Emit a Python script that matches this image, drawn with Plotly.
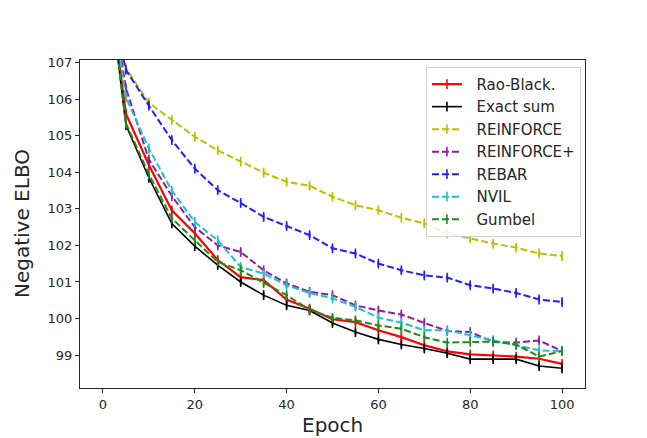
import plotly.graph_objects as go

epochs = [0, 5, 10, 15, 20, 25, 30, 35, 40, 45, 50, 55, 60, 65, 70, 75, 80, 85, 90, 95, 100]

rao_black = [110.4, 105.6, 104.2, 102.96, 102.33, 101.6, 101.13, 101.05, 100.52, 100.27, 99.98, 99.9, 99.68, 99.49, 99.27, 99.1, 99.02, 98.99, 98.96, 98.9, 98.76]
exact_sum = [110.5, 105.29, 103.85, 102.6, 101.98, 101.46, 101.0, 100.64, 100.36, 100.22, 99.88, 99.63, 99.43, 99.29, 99.18, 99.05, 98.89, 98.89, 98.89, 98.7, 98.64]
reinforce = [108.5, 106.85, 105.9, 105.43, 104.97, 104.6, 104.29, 103.99, 103.74, 103.63, 103.33, 103.1, 102.96, 102.76, 102.6, 102.33, 102.19, 102.05, 101.94, 101.78, 101.71]
reinforce_plus = [110.3, 106.3, 104.35, 103.35, 102.5, 102.0, 101.82, 101.32, 100.96, 100.73, 100.64, 100.36, 100.22, 100.11, 99.88, 99.66, 99.63, 99.36, 99.34, 99.4, 99.11]
rebar = [109.5, 106.8, 105.82, 104.88, 104.1, 103.51, 103.16, 102.78, 102.53, 102.28, 101.92, 101.78, 101.5, 101.32, 101.18, 101.12, 100.91, 100.82, 100.7, 100.52, 100.45]
nvil = [110.3, 106.05, 104.65, 103.5, 102.64, 102.14, 101.41, 101.23, 100.91, 100.7, 100.55, 100.32, 100.02, 99.89, 99.68, 99.68, 99.54, 99.4, 99.27, 99.13, 99.11]
gumbel = [110.5, 105.34, 103.95, 102.74, 102.14, 101.55, 101.32, 100.97, 100.64, 100.24, 100.02, 99.95, 99.81, 99.72, 99.49, 99.34, 99.36, 99.37, 99.29, 98.96, 99.11]

series_names = ["Rao-Black.", "Exact sum", "REINFORCE", "REINFORCE+", "REBAR", "NVIL", "Gumbel"]
series_values = [rao_black, exact_sum, reinforce, reinforce_plus, rebar, nvil, gumbel]
error_size = 0.08

x_ticks = [0, 20, 40, 60, 80, 100]
y_ticks = [99, 100, 101, 102, 103, 104, 105, 106, 107]
x_title = "Epoch"
y_title = "Negative ELBO"

styles = [
    dict(color="#ff0000", dash="solid", width=2.2),
    dict(color="#000000", dash="solid", width=1.6),
    dict(color="#bfbf00", dash="7px,3px", width=2),
    dict(color="#8e1f9c", dash="7px,3px", width=2),
    dict(color="#1f1fff", dash="7px,3px", width=2),
    dict(color="#1fc0c8", dash="7px,3px", width=2),
    dict(color="#1f8a1f", dash="7px,3px", width=2),
]

fig = go.Figure()
for i, (name, vals, st) in enumerate(zip(series_names, series_values, styles)):
    fig.add_trace(go.Scatter(
        x=epochs, y=vals, name="\u00a0\u00a0" + name, mode="lines+markers",
        legendgroup=name,
        line=dict(color=st["color"], dash=st["dash"], width=st["width"]),
        marker=dict(symbol="line-ns", size=7, color=st["color"],
                    line=dict(color=st["color"], width=1.6)),
        error_y=dict(type="constant", value=error_size, width=0,
                     thickness=1.6, color=st["color"]),
    ))

fig.update_layout(
    width=647, height=438,
    margin=dict(l=80, r=62, t=60, b=50, autoexpand=False),
    paper_bgcolor="white", plot_bgcolor="white",
    font=dict(family="DejaVu Sans", color="#262626", size=13),
    showlegend=True,
    legend=dict(x=0.992, y=0.979, xanchor="right", yanchor="top",
                bgcolor="rgba(255,255,255,0.85)", bordercolor="#d0d0d0", borderwidth=1,
                font=dict(size=15, family="DejaVu Sans", color="#262626"),
                tracegroupgap=0, itemwidth=30),
    xaxis=dict(range=[-5, 105], tickvals=x_ticks, ticks="outside", ticklen=4,
               tickcolor="#262626", showline=True, linecolor="#262626", linewidth=1,
               mirror=True, showgrid=False, zeroline=False, automargin=False),
    yaxis=dict(range=[98.1, 107.07], tickvals=y_ticks, ticks="outside", ticklen=4,
               tickcolor="#262626", showline=True, linecolor="#262626", linewidth=1,
               mirror=True, showgrid=False, zeroline=False, automargin=False),
    annotations=[
        dict(text=x_title, xref="paper", yref="paper", x=0.5, y=0,
             xanchor="center", yanchor="middle", yshift=-37, showarrow=False,
             font=dict(size=20, family="DejaVu Sans", color="#262626")),
        dict(text=y_title, xref="paper", yref="paper", x=0, y=0.5,
             xanchor="center", yanchor="middle", xshift=-58, textangle=-90,
             showarrow=False, font=dict(size=20, family="DejaVu Sans", color="#262626")),
    ],
)

fig.write_html("out.html", config={"displayModeBar": False},
               post_script="document.body.style.margin='0px';document.body.style.overflow='hidden';")
